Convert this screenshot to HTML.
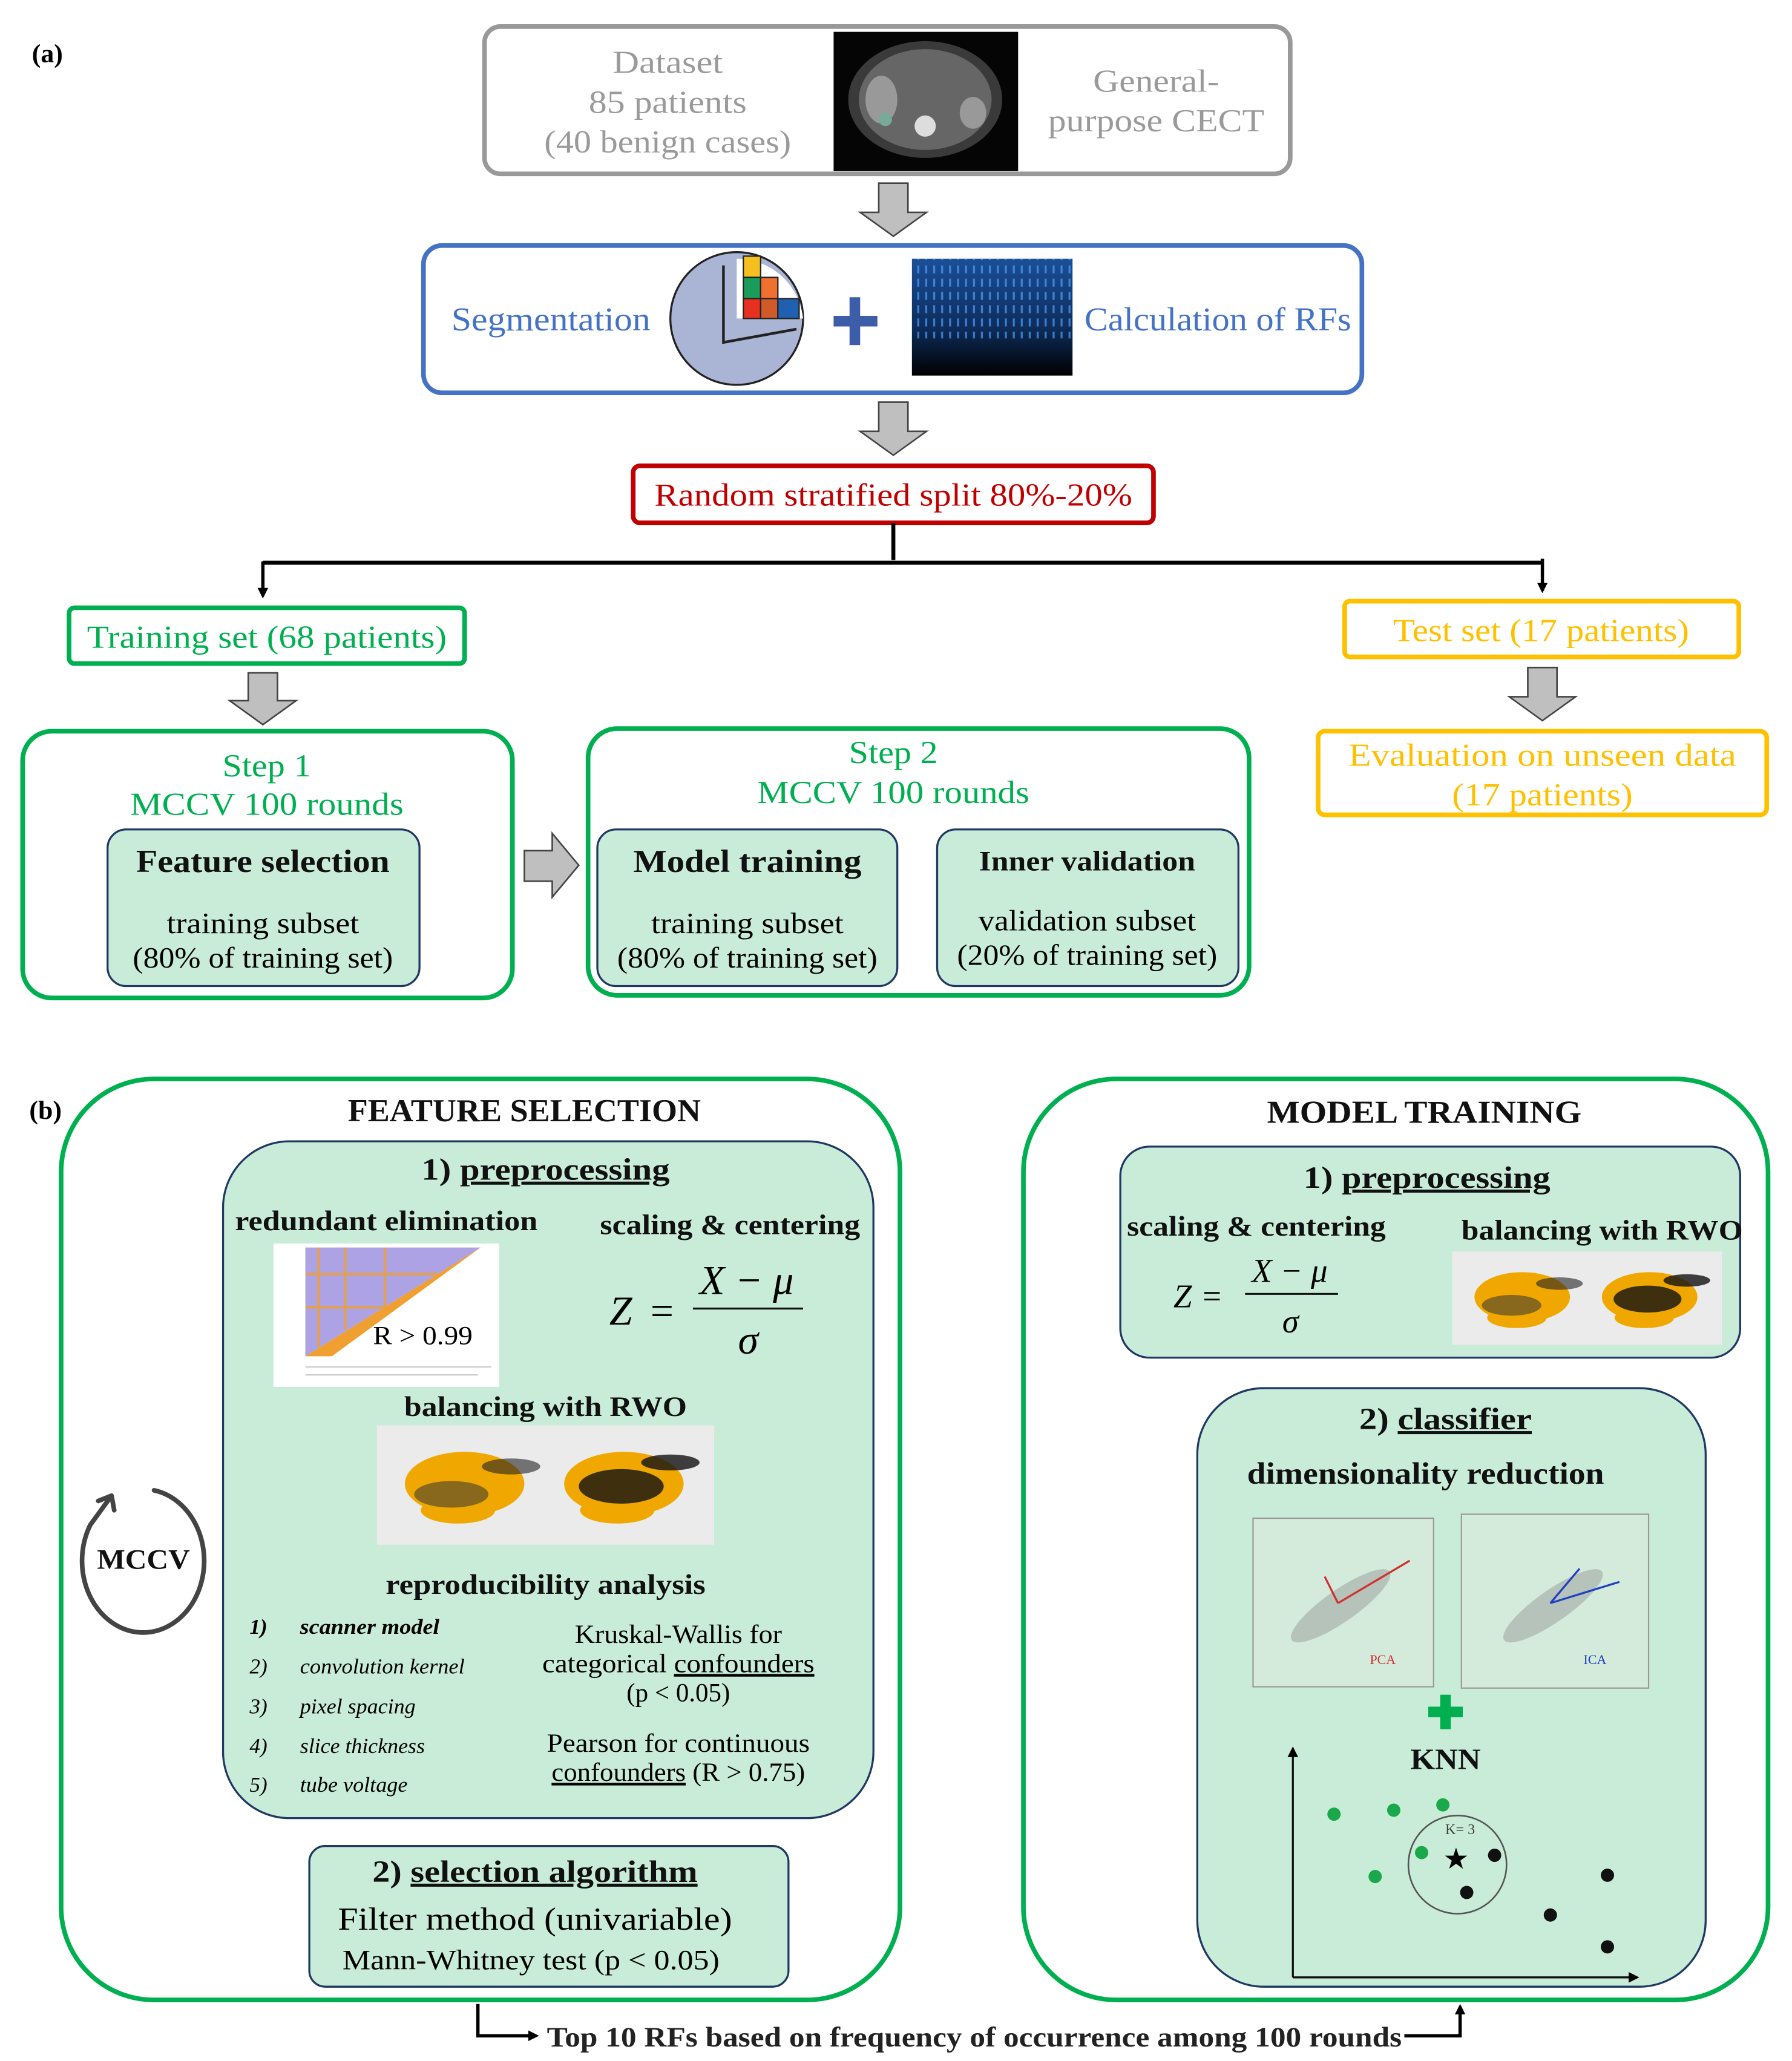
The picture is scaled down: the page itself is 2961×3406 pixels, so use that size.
<!DOCTYPE html>
<html><head><meta charset="utf-8"><style>
html,body{margin:0;padding:0;background:#fff;}
svg{display:block;}
text{font-family:"Liberation Serif",serif;}
.g{fill:#9a9a9a}
.b{font-weight:bold;fill:#111}
</style></head><body>
<svg width="2961" height="3406" viewBox="0 0 1350 1553" xmlns="http://www.w3.org/2000/svg">
<defs>
<marker id="ah" markerWidth="8" markerHeight="8" refX="6" refY="4" orient="auto" markerUnits="userSpaceOnUse"><path d="M0,0 L8,4 L0,8 z" fill="#000"/></marker>
</defs>
<rect width="1350" height="1553" fill="#fff"/>
<text x="24" y="47" font-size="20" font-weight="bold">(a)</text>

<!-- dataset -->
<rect x="365" y="20" width="607" height="111" rx="12" fill="#fff" stroke="#999" stroke-width="3.5"/>
<g font-size="24" text-anchor="middle" class="g">
<text x="503" y="55" textLength="83" lengthAdjust="spacingAndGlyphs">Dataset</text>
<text x="503" y="85" textLength="119" lengthAdjust="spacingAndGlyphs">85 patients</text>
<text x="503" y="115" textLength="186" lengthAdjust="spacingAndGlyphs">(40 benign cases)</text>
<text x="871" y="69" textLength="95" lengthAdjust="spacingAndGlyphs">General-</text>
<text x="871" y="99" textLength="163" lengthAdjust="spacingAndGlyphs">purpose CECT</text></g>
<rect x="628" y="24" width="139" height="105" fill="#050505"/>
<ellipse cx="697" cy="75" rx="58" ry="44" fill="#3a3a3a"/>
<ellipse cx="697" cy="75" rx="50" ry="38" fill="#666"/>
<ellipse cx="664" cy="75" rx="12" ry="18" fill="#999"/>
<ellipse cx="733" cy="85" rx="10" ry="12" fill="#999"/>
<circle cx="697" cy="95" r="8" fill="#ddd"/>
<circle cx="667" cy="90" r="5" fill="#7a9"/>

<polygon points="662,138 684,138 684,160 698,160 673,178 648,160 662,160" fill="#bfbfbf" stroke="#444" stroke-width="1.2"/>

<!-- segmentation -->
<rect x="319" y="185" width="707" height="111" rx="14" fill="#fff" stroke="#4472C4" stroke-width="3.5"/>
<text x="340" y="249" font-size="25" fill="#4472C4" textLength="150" lengthAdjust="spacingAndGlyphs">Segmentation</text>
<text x="817" y="249" font-size="25" fill="#4472C4" textLength="201" lengthAdjust="spacingAndGlyphs">Calculation of RFs</text>
<ellipse cx="555" cy="240" rx="50" ry="50" fill="#aab4d4" stroke="#222" stroke-width="1.5"/>
<path d="M555,195 L555,240 L605,240 A50,50 0 0 0 555,195z" fill="#fff"/>
<rect x="560" y="193" width="13" height="16" fill="#f4c020" stroke="#222"/>
<rect x="560" y="209" width="13" height="16" fill="#1a9c5c" stroke="#222"/>
<rect x="573" y="209" width="13" height="16" fill="#f07030" stroke="#222"/>
<rect x="560" y="225" width="13" height="15" fill="#e83020" stroke="#222"/>
<rect x="573" y="225" width="13" height="15" fill="#d05a28" stroke="#222"/>
<rect x="586" y="225" width="16" height="15" fill="#2060b0" stroke="#222"/>
<path d="M545,200 L545,258 L600,248" fill="none" stroke="#222" stroke-width="2"/>
<rect x="640" y="224" width="8" height="36" fill="#3c5ea8"/><rect x="628" y="238" width="33" height="8" fill="#3c5ea8"/>
<defs><linearGradient id="mx" x1="0" y1="0" x2="0" y2="1"><stop offset="0" stop-color="#1a4f96"/><stop offset="0.6" stop-color="#0d2c5a"/><stop offset="1" stop-color="#000"/></linearGradient>
<pattern id="mp" width="6" height="10" patternUnits="userSpaceOnUse"><rect x="1" y="0" width="1.5" height="6" fill="#4fa0ff" opacity="0.7"/></pattern></defs>
<rect x="687" y="195" width="121" height="88" fill="url(#mx)"/>
<rect x="687" y="195" width="121" height="60" fill="url(#mp)"/>

<polygon points="662,303 684,303 684,325 698,325 673,343 648,325 662,325" fill="#bfbfbf" stroke="#444" stroke-width="1.2"/>

<rect x="477" y="351" width="392" height="43" rx="5" fill="#fff" stroke="#C00000" stroke-width="3.5"/>
<text x="673" y="381" font-size="24" fill="#C00000" text-anchor="middle" textLength="360" lengthAdjust="spacingAndGlyphs">Random stratified split 80%-20%</text>

<path d="M673,394 V422 M198,424 H1162" stroke="#000" stroke-width="3" fill="none"/>
<path d="M198,423 V449" stroke="#000" stroke-width="2.5" marker-end="url(#ah)"/>
<path d="M1162,421 V445" stroke="#000" stroke-width="2.5" marker-end="url(#ah)"/>

<rect x="52" y="458" width="298" height="42" rx="4" fill="#fff" stroke="#00B050" stroke-width="3.5"/>
<text x="201" y="488" font-size="24" fill="#00B050" text-anchor="middle" textLength="271" lengthAdjust="spacingAndGlyphs">Training set (68 patients)</text>
<rect x="1013" y="453" width="297" height="42" rx="4" fill="#fff" stroke="#FFC000" stroke-width="3.5"/>
<text x="1161" y="483" font-size="24" fill="#FFC000" text-anchor="middle" textLength="223" lengthAdjust="spacingAndGlyphs">Test set (17 patients)</text>

<polygon points="187,507 209,507 209,528 223,528 198,546 173,528 187,528" fill="#bfbfbf" stroke="#444" stroke-width="1.2"/>
<polygon points="1151,503 1173,503 1173,525 1187,525 1162,543 1137,525 1151,525" fill="#bfbfbf" stroke="#444" stroke-width="1.2"/>

<!-- step 1 -->
<rect x="17" y="551" width="369" height="201" rx="22" fill="#fff" stroke="#00B050" stroke-width="3.5"/>
<text x="201" y="585" font-size="24" fill="#00B050" text-anchor="middle" textLength="67" lengthAdjust="spacingAndGlyphs">Step 1</text>
<text x="201" y="614" font-size="24" fill="#00B050" text-anchor="middle" textLength="206" lengthAdjust="spacingAndGlyphs">MCCV 100 rounds</text>
<rect x="81" y="625" width="235" height="118" rx="14" fill="#c9ecd9" stroke="#1F3864" stroke-width="1.5"/>
<text x="198" y="657" font-size="24" class="b" text-anchor="middle" textLength="191" lengthAdjust="spacingAndGlyphs">Feature selection</text>
<text x="198" y="703" font-size="22" text-anchor="middle" textLength="145" lengthAdjust="spacingAndGlyphs">training subset</text>
<text x="198" y="729" font-size="22" text-anchor="middle" textLength="196" lengthAdjust="spacingAndGlyphs">(80% of training set)</text>

<polygon points="395,641 416,641 416,628 436,652 416,676 416,664 395,664" fill="#bfbfbf" stroke="#444" stroke-width="1.2"/>

<rect x="443" y="549" width="498" height="201" rx="22" fill="#fff" stroke="#00B050" stroke-width="3.5"/>
<text x="673" y="575" font-size="24" fill="#00B050" text-anchor="middle" textLength="67" lengthAdjust="spacingAndGlyphs">Step 2</text>
<text x="673" y="605" font-size="24" fill="#00B050" text-anchor="middle" textLength="205" lengthAdjust="spacingAndGlyphs">MCCV 100 rounds</text>
<rect x="450" y="625" width="226" height="118" rx="14" fill="#c9ecd9" stroke="#1F3864" stroke-width="1.5"/>
<text x="563" y="657" font-size="24" class="b" text-anchor="middle" textLength="172" lengthAdjust="spacingAndGlyphs">Model training</text>
<text x="563" y="703" font-size="22" text-anchor="middle" textLength="145" lengthAdjust="spacingAndGlyphs">training subset</text>
<text x="563" y="729" font-size="22" text-anchor="middle" textLength="196" lengthAdjust="spacingAndGlyphs">(80% of training set)</text>
<rect x="706" y="625" width="227" height="118" rx="14" fill="#c9ecd9" stroke="#1F3864" stroke-width="1.5"/>
<text x="819" y="656" font-size="21" class="b" text-anchor="middle" textLength="163" lengthAdjust="spacingAndGlyphs">Inner validation</text>
<text x="819" y="701" font-size="22" text-anchor="middle" textLength="164" lengthAdjust="spacingAndGlyphs">validation subset</text>
<text x="819" y="727" font-size="22" text-anchor="middle" textLength="196" lengthAdjust="spacingAndGlyphs">(20% of training set)</text>

<rect x="993" y="551" width="338" height="63" rx="5" fill="#fff" stroke="#FFC000" stroke-width="3.5"/>
<text x="1162" y="577" font-size="24" fill="#FFC000" text-anchor="middle" textLength="292" lengthAdjust="spacingAndGlyphs">Evaluation on unseen data</text>
<text x="1162" y="607" font-size="24" fill="#FFC000" text-anchor="middle" textLength="136" lengthAdjust="spacingAndGlyphs">(17 patients)</text>

<!-- (b) -->
<text x="22" y="843" font-size="20" font-weight="bold">(b)</text>
<rect x="46" y="813" width="632" height="694" rx="70" fill="#fff" stroke="#00B050" stroke-width="3.5"/>
<text x="395" y="845" font-size="24" class="b" text-anchor="middle" textLength="266" lengthAdjust="spacingAndGlyphs">FEATURE SELECTION</text>
<rect x="168" y="860" width="490" height="510" rx="50" fill="#c9ecd9" stroke="#1F3864" stroke-width="1.5"/>
<text x="411" y="889" font-size="23" class="b" text-anchor="middle" textLength="187" lengthAdjust="spacingAndGlyphs">1) <tspan text-decoration="underline">preprocessing</tspan></text>
<text x="177" y="927" font-size="21" class="b" textLength="228" lengthAdjust="spacingAndGlyphs">redundant elimination</text>
<text x="452" y="930" font-size="21" class="b" textLength="196" lengthAdjust="spacingAndGlyphs">scaling &amp; centering</text>
<rect x="206" y="937" width="170" height="108" fill="#fff"/>
<polygon points="230,940 362,940 230,1022" fill="#8a7ad8" opacity="0.7"/>
<g stroke="#f0a030" stroke-width="2" opacity="0.8"><line x1="240" y1="940" x2="240" y2="1015"/><line x1="260" y1="940" x2="260" y2="1002"/><line x1="290" y1="940" x2="290" y2="985"/><line x1="230" y1="960" x2="330" y2="960"/><line x1="230" y1="985" x2="290" y2="985"/></g>
<polygon points="230,1022 362,940 250,1022" fill="#f0a030"/>
<g stroke="#ccc" stroke-width="1"><line x1="230" y1="1030" x2="370" y2="1030"/><line x1="230" y1="1036" x2="360" y2="1036"/></g>
<text x="281" y="1013" font-size="20" textLength="75" lengthAdjust="spacingAndGlyphs">R &gt; 0.99</text>
<g font-size="31" font-style="italic" font-family="Liberation Serif">
<text x="459" y="998">Z</text><text x="490" y="998" font-style="normal">=</text>
<text x="527" y="975">X − μ</text><line x1="522" y1="986" x2="605" y2="986" stroke="#111" stroke-width="1.5"/><text x="556" y="1020">σ</text></g>
<text x="411" y="1067" font-size="21" class="b" text-anchor="middle" textLength="213" lengthAdjust="spacingAndGlyphs">balancing with RWO</text>
<g>
<rect x="284" y="1074" width="254" height="90" fill="#ebebeb"/>
<ellipse cx="350" cy="1118" rx="45" ry="24" fill="#f0a800"/>
<ellipse cx="345" cy="1138" rx="28" ry="10" fill="#f0a800"/>
<ellipse cx="470" cy="1118" rx="45" ry="24" fill="#f0a800"/>
<ellipse cx="465" cy="1138" rx="28" ry="10" fill="#f0a800"/>
<ellipse cx="340" cy="1126" rx="28" ry="10" fill="#333" opacity="0.55"/>
<ellipse cx="468" cy="1120" rx="32" ry="13" fill="#111" opacity="0.8"/>
<ellipse cx="385" cy="1105" rx="22" ry="6" fill="#222" opacity="0.6"/>
<ellipse cx="505" cy="1102" rx="22" ry="6" fill="#111" opacity="0.8"/>
</g>
<text x="411" y="1201" font-size="21" class="b" text-anchor="middle" textLength="241" lengthAdjust="spacingAndGlyphs">reproducibility analysis</text>
<g font-size="16" font-style="italic">
<text x="188" y="1231" font-weight="bold">1)</text><text x="226" y="1231" font-weight="bold" textLength="105" lengthAdjust="spacingAndGlyphs">scanner model</text>
<text x="188" y="1261">2)</text><text x="226" y="1261" textLength="124" lengthAdjust="spacingAndGlyphs">convolution kernel</text>
<text x="188" y="1291">3)</text><text x="226" y="1291" textLength="87" lengthAdjust="spacingAndGlyphs">pixel spacing</text>
<text x="188" y="1321">4)</text><text x="226" y="1321" textLength="94" lengthAdjust="spacingAndGlyphs">slice thickness</text>
<text x="188" y="1350">5)</text><text x="226" y="1350" textLength="81" lengthAdjust="spacingAndGlyphs">tube voltage</text></g>
<g font-size="20" text-anchor="middle">
<text x="511" y="1238" textLength="156" lengthAdjust="spacingAndGlyphs">Kruskal-Wallis for</text>
<text x="511" y="1260" textLength="205" lengthAdjust="spacingAndGlyphs">categorical <tspan text-decoration="underline">confounders</tspan></text>
<text x="511" y="1282" textLength="78" lengthAdjust="spacingAndGlyphs">(p &lt; 0.05)</text>
<text x="511" y="1320" textLength="198" lengthAdjust="spacingAndGlyphs">Pearson for continuous</text>
<text x="511" y="1342" textLength="191" lengthAdjust="spacingAndGlyphs"><tspan text-decoration="underline">confounders</tspan> (R &gt; 0.75)</text></g>
<rect x="233" y="1391" width="361" height="106" rx="12" fill="#c9ecd9" stroke="#1F3864" stroke-width="1.5"/>
<text x="403" y="1418" font-size="23" class="b" text-anchor="middle" textLength="245" lengthAdjust="spacingAndGlyphs">2) <tspan text-decoration="underline">selection algorithm</tspan></text>
<text x="403" y="1454" font-size="24" text-anchor="middle" textLength="297" lengthAdjust="spacingAndGlyphs">Filter method (univariable)</text>
<text x="400" y="1484" font-size="21" text-anchor="middle" textLength="284" lengthAdjust="spacingAndGlyphs">Mann-Whitney test (p &lt; 0.05)</text>

<!-- MCCV circles -->
<g fill="none" stroke="#444" stroke-width="3.5" stroke-linecap="round" stroke-linejoin="round">
<path d="M116,1123 A46,54 0 1 1 68,1149 L84,1127 M74,1131 L84,1127 L86,1138"/>
<path d="M846,1123 A46,54 0 1 1 798,1149 L814,1127 M804,1131 L814,1127 L816,1138"/></g>
<text x="108" y="1182" font-size="21" class="b" text-anchor="middle" textLength="70" lengthAdjust="spacingAndGlyphs">MCCV</text>
<text x="838" y="1182" font-size="21" class="b" text-anchor="middle" textLength="70" lengthAdjust="spacingAndGlyphs">MCCV</text>

<!-- model training -->
<rect x="771" y="813" width="561" height="694" rx="70" fill="#fff" stroke="#00B050" stroke-width="3.5"/>
<text x="1073" y="846" font-size="24" class="b" text-anchor="middle" textLength="237" lengthAdjust="spacingAndGlyphs">MODEL TRAINING</text>
<rect x="844" y="864" width="467" height="159" rx="22" fill="#c9ecd9" stroke="#1F3864" stroke-width="1.5"/>
<text x="1075" y="895" font-size="23" class="b" text-anchor="middle" textLength="186" lengthAdjust="spacingAndGlyphs">1) <tspan text-decoration="underline">preprocessing</tspan></text>
<text x="849" y="931" font-size="21" class="b" textLength="195" lengthAdjust="spacingAndGlyphs">scaling &amp; centering</text>
<text x="1101" y="934" font-size="21" class="b" textLength="212" lengthAdjust="spacingAndGlyphs">balancing with RWO</text>
<g font-size="25" font-style="italic">
<text x="884" y="985">Z</text><text x="906" y="985" font-style="normal">=</text>
<text x="943" y="966">X − μ</text><line x1="938" y1="975" x2="1008" y2="975" stroke="#111" stroke-width="1.4"/><text x="966" y="1004">σ</text></g>
<g transform="translate(1094,943) scale(0.8,0.78) translate(-284,-1074)">
<rect x="284" y="1074" width="254" height="90" fill="#ebebeb"/>
<ellipse cx="350" cy="1118" rx="45" ry="24" fill="#f0a800"/><ellipse cx="345" cy="1138" rx="28" ry="10" fill="#f0a800"/>
<ellipse cx="470" cy="1118" rx="45" ry="24" fill="#f0a800"/><ellipse cx="465" cy="1138" rx="28" ry="10" fill="#f0a800"/>
<ellipse cx="340" cy="1126" rx="28" ry="10" fill="#333" opacity="0.55"/><ellipse cx="468" cy="1120" rx="32" ry="13" fill="#111" opacity="0.8"/>
<ellipse cx="385" cy="1105" rx="22" ry="6" fill="#222" opacity="0.6"/><ellipse cx="505" cy="1102" rx="22" ry="6" fill="#111" opacity="0.8"/>
</g>
<rect x="902" y="1046" width="383" height="451" rx="50" fill="#c9ecd9" stroke="#1F3864" stroke-width="1.5"/>
<text x="1089" y="1077" font-size="23" class="b" text-anchor="middle" textLength="130" lengthAdjust="spacingAndGlyphs">2) <tspan text-decoration="underline">classifier</tspan></text>
<text x="1074" y="1118" font-size="23" class="b" text-anchor="middle" textLength="269" lengthAdjust="spacingAndGlyphs">dimensionality reduction</text>
<rect x="944" y="1144" width="136" height="127" fill="#d4ebdc" stroke="#999" stroke-width="1"/>
<rect x="1101" y="1141" width="141" height="131" fill="#d4ebdc" stroke="#999" stroke-width="1"/>
<ellipse cx="1010" cy="1210" rx="45" ry="12" transform="rotate(-35 1010 1210)" fill="#888" opacity="0.4"/>
<ellipse cx="1170" cy="1210" rx="45" ry="12" transform="rotate(-35 1170 1210)" fill="#888" opacity="0.4"/>
<path d="M1008,1208 L1062,1176 M1008,1208 L998,1188" stroke="#d03030" stroke-width="1.5" fill="none"/>
<path d="M1168,1208 L1220,1192 M1168,1208 L1190,1182" stroke="#2040c0" stroke-width="1.5" fill="none"/>
<text x="1032" y="1254" font-size="10" fill="#d03030" font-family="Liberation Sans">PCA</text>
<text x="1193" y="1254" font-size="10" fill="#2040c0" font-family="Liberation Sans">ICA</text>
<rect x="1085" y="1277" width="8" height="26" fill="#00B050"/><rect x="1076" y="1286" width="26" height="8" fill="#00B050"/>
<text x="1089" y="1333" font-size="22" class="b" text-anchor="middle" textLength="53" lengthAdjust="spacingAndGlyphs">KNN</text>
<path d="M974,1490 V1318" stroke="#111" stroke-width="1.5" marker-end="url(#ah)"/>
<path d="M974,1490 H1233" stroke="#111" stroke-width="1.5" marker-end="url(#ah)"/>
<ellipse cx="1098" cy="1405" rx="37" ry="37" fill="none" stroke="#555" stroke-width="1.2"/>
<text x="1100" y="1382" font-size="11" text-anchor="middle" font-family="Liberation Sans" fill="#444">K= 3</text>
<text x="1097" y="1408" font-size="22" text-anchor="middle">★</text>
<g fill="#1aa84a"><circle cx="1005" cy="1367" r="5"/><circle cx="1050" cy="1364" r="5"/><circle cx="1087" cy="1360" r="5"/><circle cx="1071" cy="1396" r="5"/><circle cx="1036" cy="1414" r="5"/></g>
<g fill="#111"><circle cx="1126" cy="1398" r="5"/><circle cx="1105" cy="1426" r="5"/><circle cx="1211" cy="1413" r="5"/><circle cx="1168" cy="1443" r="5"/><circle cx="1211" cy="1467" r="5"/></g>

<!-- bottom connector -->
<path d="M360,1510 V1534 H404" stroke="#000" stroke-width="2.5" fill="none" marker-end="url(#ah)"/>
<path d="M1058,1534 H1100 V1512" stroke="#000" stroke-width="2.5" fill="none" marker-end="url(#ah)"/>
<text x="412" y="1542" font-size="21" font-weight="bold" fill="#222" textLength="644" lengthAdjust="spacingAndGlyphs">Top 10 RFs based on frequency of occurrence among 100 rounds</text>
</svg>
</body></html>
